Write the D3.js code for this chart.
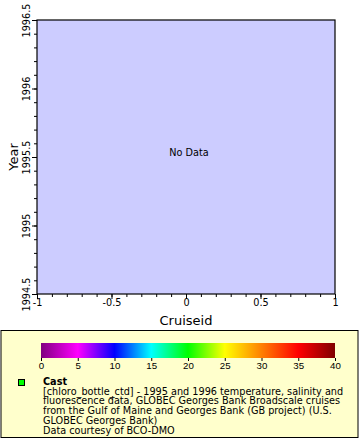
<!DOCTYPE html>
<html><head><meta charset="utf-8">
<script src="https://cdn.jsdelivr.net/npm/d3@7"></script>
<style>body{margin:0;background:#fff}svg{display:block;font-family:"DejaVu Sans",sans-serif}</style>
</head><body><svg id="c" width="360" height="440"></svg>
<script>
const xDomain = [-1, 1];
const yDomain = [1994.5, 1996.5];
const xTicks = [-1, -0.5, 0, 0.5, 1];
const yTicks = [1994.5, 1995, 1995.5, 1996, 1996.5];
const colorStops = [0, 5, 10, 15, 20, 25, 30, 35, 40];
const colorValues = ["#800080","#ff00ff","#0000ff","#00ffff","#00ff00","#ffff00","#ff8000","#ff0000","#800000"];
const legendTitle = "Cast";
const legendLines = ["[chloro_bottle_ctd] - 1995 and 1996 temperature, salinity and",
 "fluorescence data, GLOBEC Georges Bank Broadscale cruises",
 "from the Gulf of Maine and Georges Bank (GB project) (U.S.",
 "GLOBEC Georges Bank)",
 "Data courtesy of BCO-DMO"];

const fmt = d => String(d);
const svg = d3.select("#c");
const L=37,R=335,T=20,B=294;
const x = d3.scaleLinear().domain(xDomain).range([L,R]);
const y = d3.scaleLinear().domain(yDomain).range([B,T]);

svg.append("rect").attr("x",L).attr("y",T).attr("width",R-L).attr("height",B-T).attr("fill","#ccccff");

const minorX = d3.range(-1,1.0001,0.1);
const minorY = d3.range(1994.5,1996.5001,0.1);
const gx = svg.append("g").attr("transform",`translate(0,${B})`);
gx.call(d3.axisBottom(x).tickValues(minorX).tickSize(3).tickFormat(""));
const gx2 = gx.append("g").call(d3.axisBottom(x).tickValues(xTicks).tickSize(5).tickFormat(fmt));
const gy = svg.append("g").attr("transform",`translate(${L},0)`);
gy.call(d3.axisLeft(y).tickValues(minorY).tickSize(3).tickFormat(""));
const gy2 = gy.append("g").call(d3.axisLeft(y).tickValues(yTicks).tickSize(5).tickFormat(fmt));
svg.selectAll(".domain").remove();
svg.selectAll(".tick line").attr("stroke","#000");
gx2.selectAll(".tick text").attr("font-size",9.7).attr("font-family","DejaVu Sans").attr("fill","#000").attr("dy","0.75em").attr("y",5);
gy2.selectAll(".tick text").attr("font-size",9.7).attr("font-family","DejaVu Sans").attr("fill","#000")
  .attr("transform","rotate(-90)").attr("x",0).attr("y",-7).attr("dy",0).attr("text-anchor","middle");

svg.append("rect").attr("x",L).attr("y",T).attr("width",R-L).attr("height",B-T).attr("fill","none").attr("stroke","#000").attr("stroke-width",1.2);

svg.append("text").attr("x",(L+R)/2).attr("y",325).attr("text-anchor","middle").attr("font-size",13).text("Cruiseid");
svg.append("text").attr("transform","translate(18,157) rotate(-90)").attr("text-anchor","middle").attr("font-size",13).text("Year");
svg.append("text").attr("x",189).attr("y",156).attr("text-anchor","middle").attr("font-size",9.7).text("No Data");

// legend
svg.append("rect").attr("x",1).attr("y",330.5).attr("width",357).attr("height",107).attr("fill","#ffffcc").attr("stroke","#000");
const cb = d3.scaleLinear().domain([0,40]).range([41,335]);
const defs = svg.append("defs");
const grad = defs.append("linearGradient").attr("id","g");
colorStops.forEach((s,i)=>grad.append("stop").attr("offset",(s/40*100)+"%").attr("stop-color",colorValues[i]));
svg.append("rect").attr("x",cb(0)).attr("y",343).attr("width",cb(40)-cb(0)).attr("height",15).attr("fill","url(#g)");
const gc = svg.append("g").attr("transform","translate(0,358)");
gc.call(d3.axisBottom(cb).tickValues(colorStops).tickSize(3).tickFormat(fmt));
gc.select(".domain").remove();
gc.selectAll("line").attr("stroke","#000");
gc.selectAll("text").attr("font-size",9.7).attr("fill","#000").attr("y",4);

svg.append("rect").attr("x",18.5).attr("y",379.5).attr("width",6).attr("height",6).attr("fill","#00ff00").attr("stroke","#000");
svg.append("text").attr("x",43).attr("y",385).attr("font-size",9.7).attr("font-weight","bold").text(legendTitle);
legendLines.forEach((t,i)=>svg.append("text").attr("x",43).attr("y",394.5+i*9.9).attr("font-size",9.7).text(t));
</script></body></html>
